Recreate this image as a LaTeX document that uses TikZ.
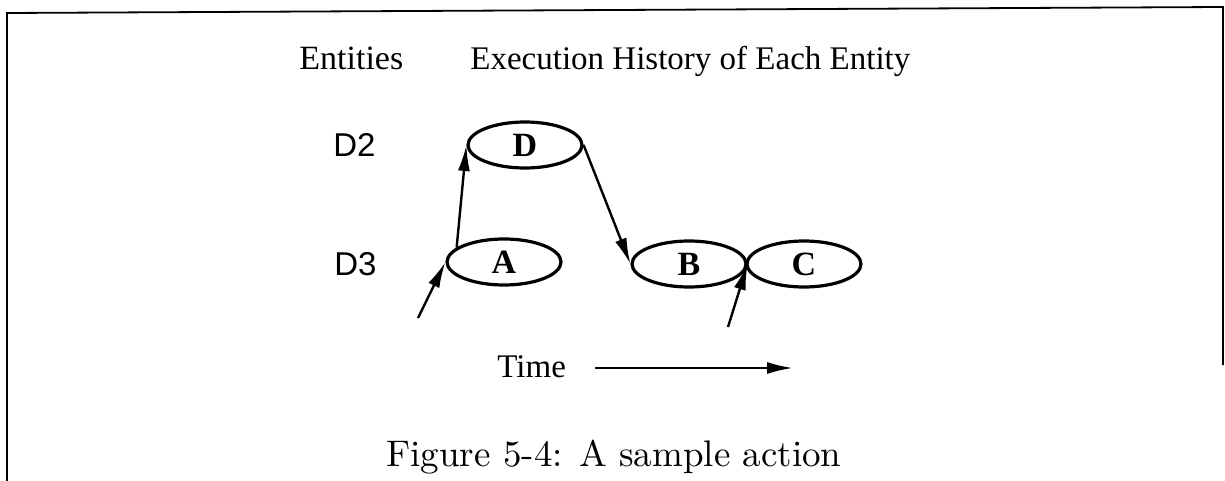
\documentclass[tikz,border=0pt]{standalone}
\usepackage{fontspec}
\setmainfont{Liberation Serif}
\newfontfamily\helv{Liberation Sans}
\newfontfamily\capfont{lmroman10-regular.otf}
\usetikzlibrary{shapes.geometric,arrows.meta}
\begin{document}
\begin{tikzpicture}[x=0.5pt,y=-0.5pt,
  evt/.style={draw,ellipse,line width=1.6pt,minimum width=57pt,minimum height=23pt,inner sep=0pt,
    font=\fontsize{17}{18}\selectfont\bfseries},
  conn/.style={line width=1.2pt,-{Latex[length=13pt,width=6pt]}},
  lbl/.style={anchor=base west,inner sep=0pt,font=\fontsize{16.5}{18}\selectfont},
  ent/.style={anchor=base west,inner sep=0pt,font=\helv\fontsize{16.5}{17}\selectfont}]
\useasboundingbox (0,0) rectangle (1225,481);
% frame
\draw[line width=0.9pt] (7,481) -- (7,13) -- (1223,7) -- (1223,365);
% headings
\node[lbl,font=\fontsize{17}{18}\selectfont] (hEnt) at (299,70) {Entities};
\node[lbl] (hHist) at (470,70) {Execution History of Each Entity};
\node[ent] (d2) at (333,156) {D2};
\node[ent] (d3) at (334,275) {D3};
% events
\node[evt] (D) at (525,145) {D};
\node[evt] (A) at (504,262) {A};
\node[evt] (B) at (689,264) {B};
\node[evt] (C) at (804,264) {C};
% connectors
\coordinate (inA) at (418,318);
\coordinate (inB) at (728,327);
\draw[conn] (A.163) -- (D.west);
\draw[conn] (D.east) -- (B.west);
\draw[conn] (inA) -- (A.west);
\draw[conn] (inB) -- (B.east);
% time
\node[lbl] (time) at (497,377) {Time};
\coordinate (t0) at (595,368);
\coordinate (t1) at (793,368);
\draw[conn] (t0) -- (t1);
% caption
\node[anchor=base,inner sep=0pt,font=\capfont\fontsize{18.5}{19}\selectfont] (cap) at (614,466) {Figure 5-4: A sample action};
\end{tikzpicture}
\end{document}
